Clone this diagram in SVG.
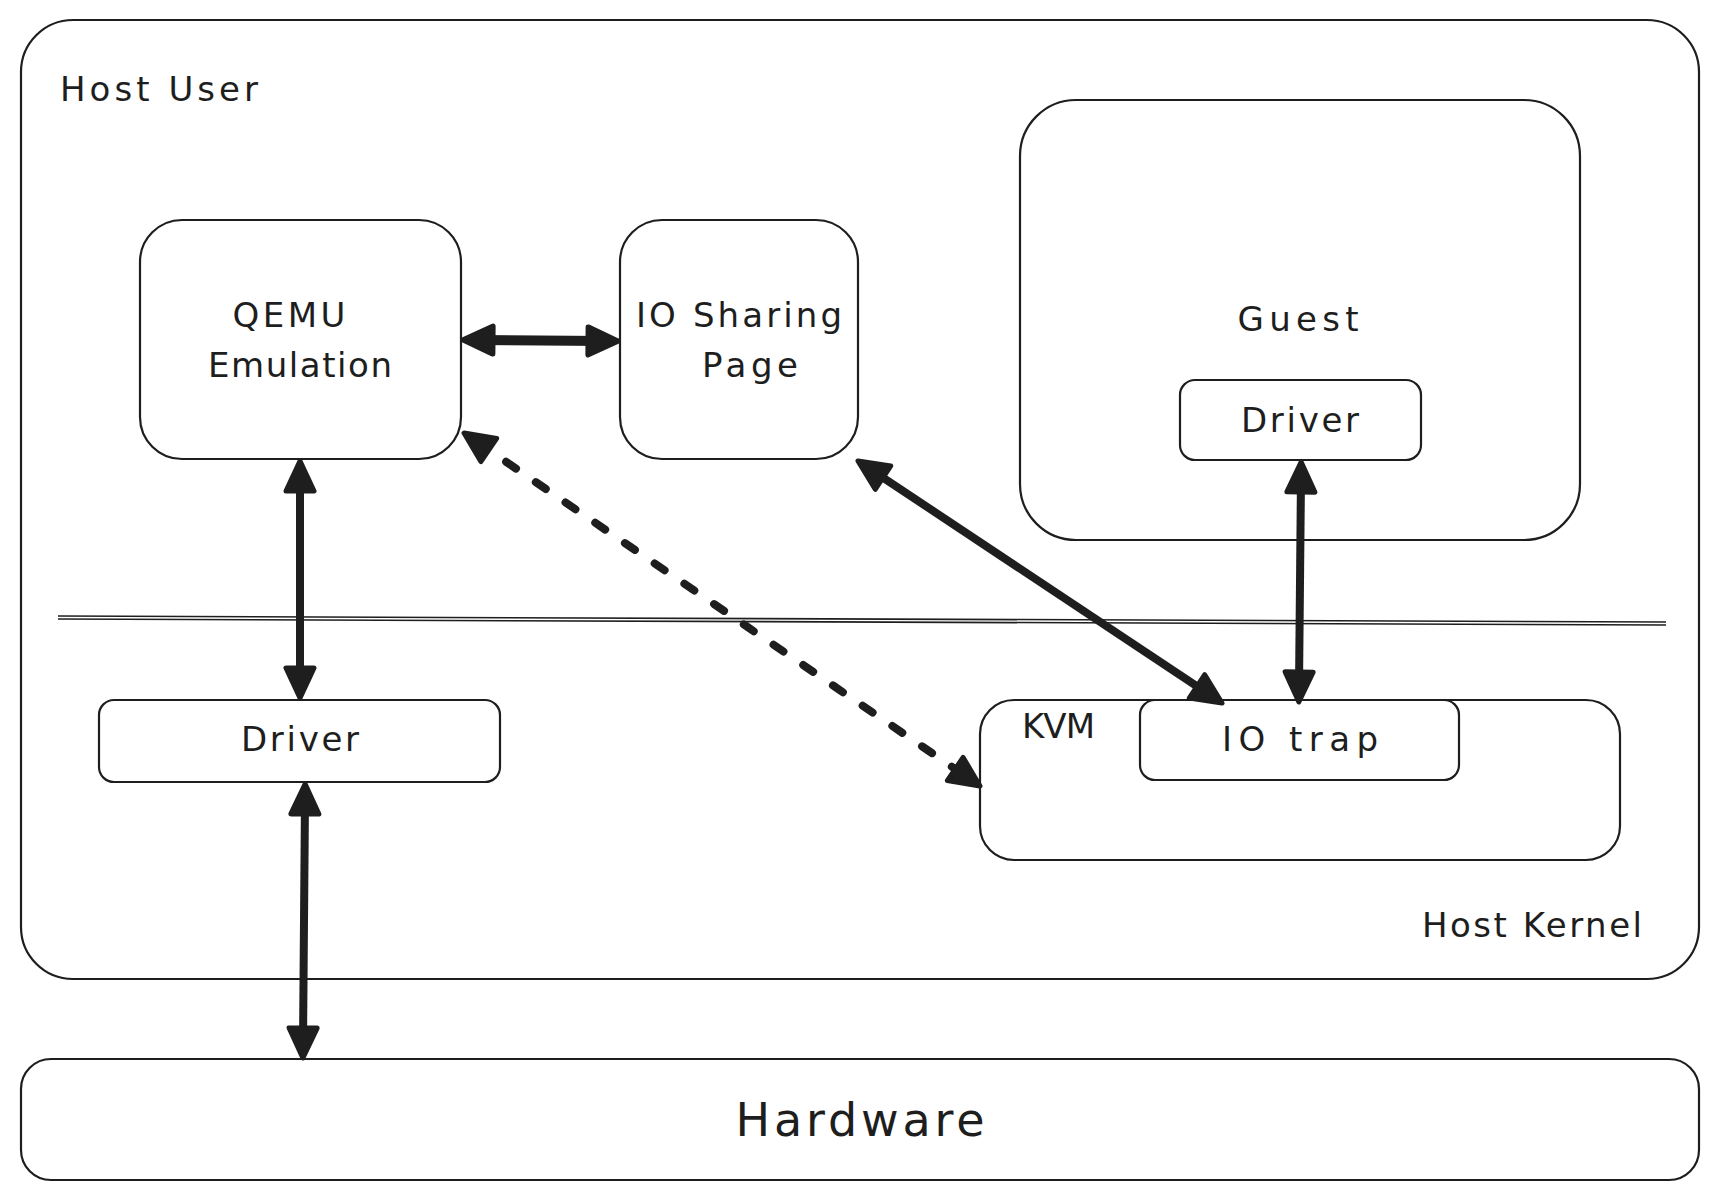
<svg xmlns="http://www.w3.org/2000/svg" width="1720" height="1200" viewBox="0 0 1720 1200">
<defs>
<style>
.box{fill:none;stroke:#1e1e1e;stroke-width:2.2}
.sep{fill:none;stroke:#1e1e1e;stroke-width:1.6}
.t{font-family:"DejaVu Sans","Liberation Sans",sans-serif;font-size:34px;fill:#1e1e1e}
.c{text-anchor:middle}
.arr{fill:none;stroke:#1e1e1e;stroke-width:8;stroke-linecap:butt}
.dash{stroke-dasharray:12 24;stroke-linecap:round}
</style>
<marker id="ah" viewBox="-4 -4 40 38" refX="15" refY="15" markerWidth="40" markerHeight="38" markerUnits="userSpaceOnUse" orient="auto-start-reverse">
<path d="M0,1 L30,15 L0,29 Z" fill="#1e1e1e" stroke="#1e1e1e" stroke-width="5" stroke-linejoin="round"/>
</marker>
</defs>
<rect width="1720" height="1200" fill="#ffffff"/>

<g id="host">
<rect class="box" x="21" y="20" width="1678" height="959" rx="52"/>
<text class="t" x="60" y="101" textLength="198" lengthAdjust="spacing">Host User</text>
<text class="t" x="1422" y="937" textLength="220" lengthAdjust="spacing">Host Kernel</text>
<line class="sep" x1="58" y1="616" x2="1666" y2="622"/>
<line class="sep" x1="58" y1="619" x2="1666" y2="625"/>
</g>

<g id="qemu">
<rect class="box" x="140" y="220" width="321" height="239" rx="42"/>
<text class="t c" x="289" y="327" textLength="113" lengthAdjust="spacing">QEMU</text>
<text class="t c" x="300" y="377" textLength="184" lengthAdjust="spacing">Emulation</text>
</g>

<g id="io-sharing">
<rect class="box" x="620" y="220" width="238" height="239" rx="42"/>
<text class="t c" x="739" y="327" textLength="206" lengthAdjust="spacing">IO Sharing</text>
<text class="t c" x="750" y="377" textLength="96" lengthAdjust="spacing">Page</text>
</g>

<g id="guest">
<rect class="box" x="1020" y="100" width="560" height="440" rx="56"/>
<text class="t c" x="1298" y="331" textLength="121" lengthAdjust="spacing">Guest</text>
</g>

<g id="guest-driver">
<rect class="box" x="1180" y="380" width="241" height="80" rx="15"/>
<text class="t c" x="1300" y="432" textLength="118" lengthAdjust="spacing">Driver</text>
</g>

<g id="host-driver">
<rect class="box" x="99" y="700" width="401" height="82" rx="15"/>
<text class="t c" x="300" y="751" textLength="118" lengthAdjust="spacing">Driver</text>
</g>

<g id="kvm">
<rect class="box" x="980" y="700" width="640" height="160" rx="34"/>
<text class="t" x="1022" y="738" textLength="73" lengthAdjust="spacing">KVM</text>
</g>

<g id="io-trap">
<rect class="box" x="1140" y="700" width="319" height="80" rx="15"/>
<text class="t c" x="1300" y="751" textLength="156" lengthAdjust="spacing">IO trap</text>
</g>

<g id="hardware">
<rect class="box" x="21" y="1059" width="1678" height="121" rx="30"/>
<text class="t c" x="860" y="1136" style="font-size:46px" textLength="249" lengthAdjust="spacing">Hardware</text>
</g>

<g id="connectors">
<line class="arr" x1="478" y1="340" x2="603" y2="341" style="stroke-width:10" marker-start="url(#ah)" marker-end="url(#ah)"/>
<line class="arr" x1="300" y1="476" x2="300" y2="683" marker-start="url(#ah)" marker-end="url(#ah)"/>
<line class="arr" x1="305" y1="799" x2="303" y2="1043" marker-start="url(#ah)" marker-end="url(#ah)"/>
<line class="arr" x1="870.5" y1="469.3" x2="1209.5" y2="694.7" marker-start="url(#ah)" marker-end="url(#ah)"/>
<line class="arr" x1="1301" y1="477" x2="1299" y2="687" marker-start="url(#ah)" marker-end="url(#ah)"/>
<line class="arr dash" x1="476.4" y1="441.5" x2="967.6" y2="777.5" marker-start="url(#ah)" marker-end="url(#ah)"/>
</g>
</svg>
